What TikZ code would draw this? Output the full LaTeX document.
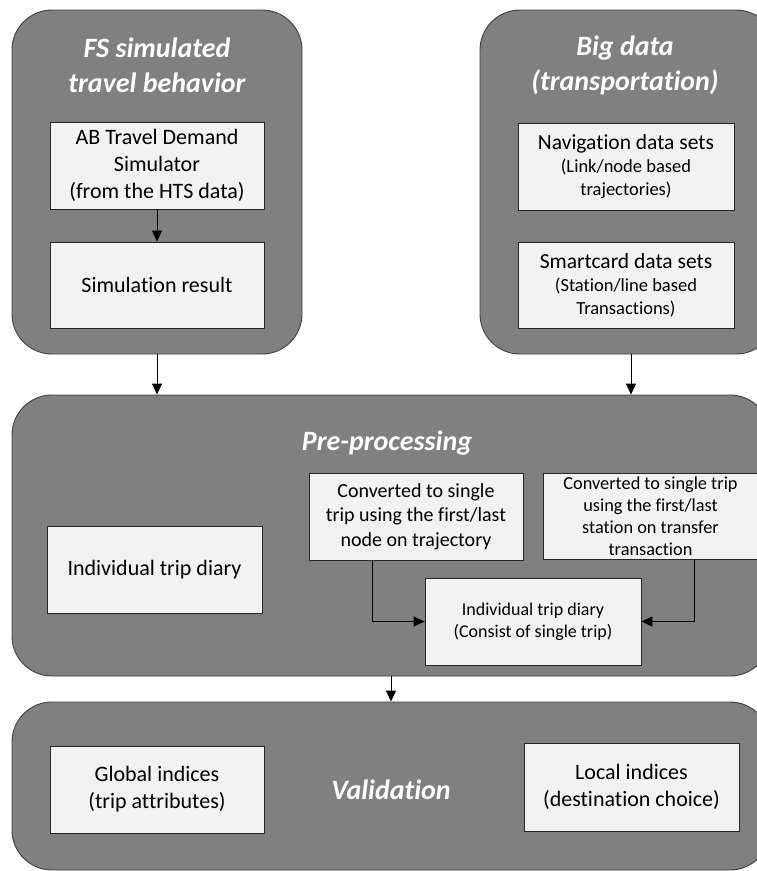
\documentclass[tikz,border=0pt]{standalone}
\usepackage{fontspec}
\setmainfont{Carlito}[Ligatures=NoCommon]
\usetikzlibrary{arrows.meta}

\begin{document}
\begin{tikzpicture}[x=1pt, y=-1pt, >={Triangle[length=11pt,width=10pt]}]
	\tikzstyle{panel}=[draw=black!75, line width=0.9pt, fill=black!50, rounded corners=40pt, inner sep=0pt]
	\tikzstyle{box}=[draw=black!85, line width=0.8pt, fill=black!5, inner sep=1pt, align=center, font=\fontsize{22}{27}\selectfont]
	\tikzstyle{title}=[text=white, align=center, inner sep=0pt, font=\fontsize{28}{35}\selectfont\bfseries\itshape]
	\clip (0, 0) rectangle (757, 871);
	\node[panel, minimum width=290pt, minimum height=344pt] (FS) at (157, 182) {};
	\node[panel, minimum width=296pt, minimum height=344pt] (BD) at (628, 182) {};
	\node[panel, minimum width=758pt, minimum height=281pt] (PP) at (391, 535.5) {};
	\node[panel, minimum width=758pt, minimum height=168pt] (VA) at (391, 786) {};
	\node[title] (FSt) at (157, 65) {FS simulated\\travel behavior};
	\node[title] (BDt) at (625, 65) {Big data\\(transportation)};
	\node[title] (PPt) at (387, 443) {Pre-processing};
	\node[title] (VAt) at (391, 790) {Validation};
	\node[box, minimum width=214pt, minimum height=87pt] (AB) at (157, 165.5) {AB Travel Demand\\Simulator\\(from the HTS data)};
	\node[box, minimum width=214pt, minimum height=86pt] (SR) at (157, 285) {Simulation result};
	\node[box, minimum width=216pt, minimum height=87pt, font=\fontsize{18.5}{23}\selectfont] (NV) at (626, 167) {\fontsize{21.5}{25}\selectfont Navigation data sets\\(Link/node based\\trajectories)};
	\node[box, minimum width=216pt, minimum height=86pt, font=\fontsize{18.5}{23}\selectfont] (SC) at (626, 285) {\fontsize{21.5}{25}\selectfont Smartcard data sets\\(Station/line based\\Transactions)};
	\node[box, minimum width=215pt, minimum height=87pt] (ID) at (154.5, 569.5) {Individual trip diary};
	\node[box, minimum width=214pt, minimum height=87pt, font=\fontsize{20}{24.5}\selectfont] (C1) at (416, 516.5) {Converted to single\\trip using the first/last\\node on trajectory};
	\node[box, minimum width=215pt, minimum height=86pt, font=\fontsize{18.3}{22}\selectfont] (C2) at (650.5, 516) {Converted to single trip\\using the first/last\\station on transfer\\transaction};
	\node[box, minimum width=216pt, minimum height=87pt, font=\fontsize{18}{22}\selectfont] (ST) at (533, 621.5) {Individual trip diary\\(Consist of single trip)};
	\node[box, minimum width=214pt, minimum height=87pt] (GI) at (157, 789.5) {Global indices\\(trip attributes)};
	\node[box, minimum width=215pt, minimum height=88pt] (LI) at (631.5, 787) {Local indices\\(destination choice)};
	\draw [->, line width=0.9pt] (AB) -- (SR);
	\draw [->, line width=0.9pt] (FS.south) -- (FS.south |- PP.north);
	\draw [->, line width=0.9pt] ([xshift=3pt]BD.south) -- ([xshift=3pt]BD.south |- PP.north);
	\draw [->, line width=0.9pt] (PP.south) -- (VA.north);
	\draw [->, line width=0.9pt] ([xshift=-44pt]C1.south) |- (ST.west);
	\draw [->, line width=0.9pt] ([xshift=43.5pt]C2.south) |- (ST.east);
\end{tikzpicture}
\end{document}
